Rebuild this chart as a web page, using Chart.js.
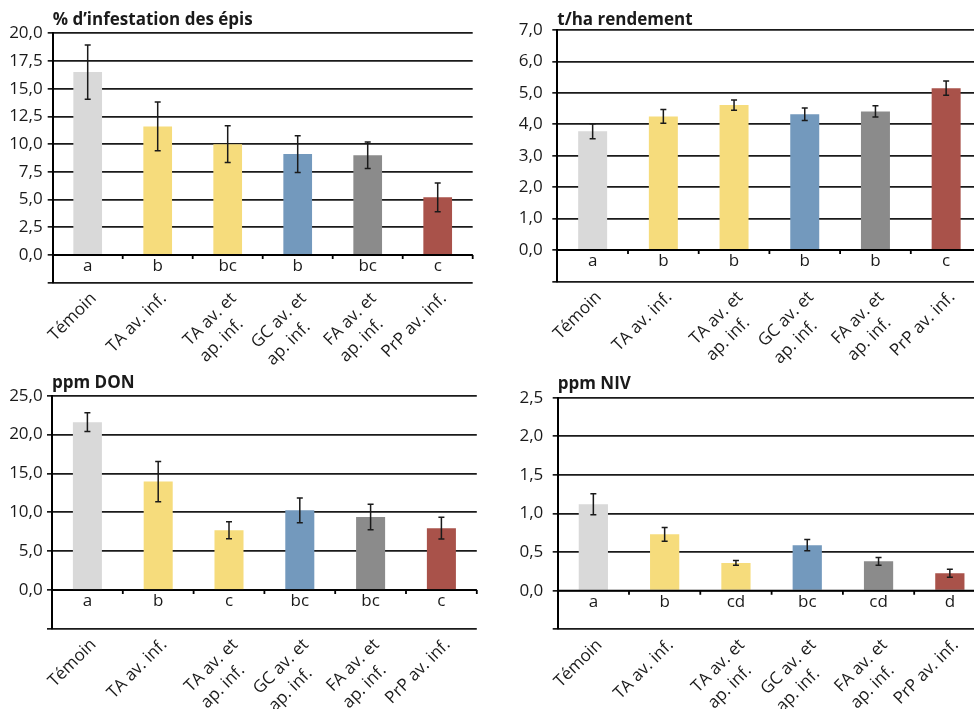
<!DOCTYPE html>
<html>
<head>
<meta charset="utf-8">
<script src="https://cdn.jsdelivr.net/npm/chart.js@4/dist/chart.umd.min.js"></script>
<style>
  html, body { margin: 0; padding: 0; background: #fff; }
  body { width: 974px; height: 709px; overflow: hidden; position: relative; }
  canvas { position: absolute; }
</style>
</head>
<body>
<canvas id="c1" width="490" height="372" style="left:0;top:0"></canvas>
<canvas id="c2" width="500" height="372" style="left:490px;top:0"></canvas>
<canvas id="c3" width="490" height="337" style="left:0;top:372px"></canvas>
<canvas id="c4" width="500" height="337" style="left:490px;top:372px"></canvas>
<script>
// Treatments (x categories)
const categories = [
  'Témoin',
  'TA av. inf.',
  ['TA av. et', 'ap. inf.'],
  ['GC av. et', 'ap. inf.'],
  ['FA av. et', 'ap. inf.'],
  'PrP av. inf.'
];
const barColors = ['#d9d9d9', '#f6dc7c', '#f6dc7c', '#7399bd', '#8b8b8b', '#a9524a'];

// % d'infestation des épis
const infestation = [16.5, 11.6, 10.0, 9.1, 9.0, 5.2];
const infestationErr = [2.45, 2.2, 1.65, 1.65, 1.2, 1.3];
const infestationLetters = ['a', 'b', 'bc', 'b', 'bc', 'c'];

// t/ha rendement
const rendement = [3.78, 4.25, 4.61, 4.32, 4.41, 5.15];
const rendementErr = [0.24, 0.22, 0.16, 0.2, 0.18, 0.23];
const rendementLetters = ['a', 'b', 'b', 'b', 'b', 'c'];

// ppm DON
const don = [21.6, 13.95, 7.7, 10.25, 9.4, 7.95];
const donErr = [1.2, 2.6, 1.1, 1.6, 1.65, 1.4];
const donLetters = ['a', 'b', 'c', 'bc', 'bc', 'c'];

// ppm NIV
const niv = [1.12, 0.73, 0.36, 0.59, 0.38, 0.225];
const nivErr = [0.135, 0.09, 0.03, 0.073, 0.05, 0.052];
const nivLetters = ['a', 'b', 'cd', 'bc', 'cd', 'd'];

const INK = '#1a1a1a';
const LABEL_FONT = "17px 'Open Sans', sans-serif";
Chart.defaults.font.family = "'Open Sans', sans-serif";
Chart.defaults.color = INK;

// Rotated tick labels are right-aligned by Chart.js; pad the shorter lines
// of a multi-line label so that all its lines start at the same point.
const measureCtx = document.createElement('canvas').getContext('2d');
function startAligned(lines) {
  measureCtx.font = LABEL_FONT;
  const widths = lines.map(l => measureCtx.measureText(l).width);
  const maxW = Math.max(...widths);
  const space = measureCtx.measureText(' ').width;
  return lines.map((l, i) => l + ' '.repeat(Math.round((maxW - widths[i]) / space)));
}

// Vertical error bars from each bar's value +/- its error
const errorBars = {
  id: 'errorBars',
  afterDatasetsDraw(chart, args, opts) {
    const { ctx, scales: { x, y } } = chart;
    const data = chart.data.datasets[0].data;
    ctx.save();
    ctx.strokeStyle = INK;
    ctx.lineWidth = 1.5;
    data.forEach((v, i) => {
      const px = x.getPixelForValue(i);
      const top = y.getPixelForValue(v + opts.values[i]);
      const bot = y.getPixelForValue(v - opts.values[i]);
      ctx.beginPath();
      ctx.moveTo(px, top); ctx.lineTo(px, bot);
      ctx.moveTo(px - 3, top); ctx.lineTo(px + 3, top);
      ctx.moveTo(px - 3, bot); ctx.lineTo(px + 3, bot);
      ctx.stroke();
    });
    ctx.restore();
  }
};

// Horizontal axis at zero with its category tick marks, plus the group letters below it
const zeroAxis = {
  id: 'zeroAxis',
  afterDatasetsDraw(chart, args, opts) {
    const { ctx, chartArea, scales: { x, y } } = chart;
    const y0 = y.getPixelForValue(0);
    const n = chart.data.labels.length;
    const half = (x.getPixelForValue(1) - x.getPixelForValue(0)) / 2;
    ctx.save();
    ctx.strokeStyle = '#000';
    ctx.lineWidth = 1.8;
    ctx.beginPath();
    ctx.moveTo(chartArea.left, y0); ctx.lineTo(chartArea.right, y0);
    for (let i = 0; i < n; i++) {
      const bx = x.getPixelForValue(i) + half;
      ctx.moveTo(bx, y0); ctx.lineTo(bx, y0 + 4);
    }
    ctx.stroke();
    ctx.fillStyle = INK;
    ctx.font = LABEL_FONT;
    ctx.textAlign = 'center';
    ctx.textBaseline = 'middle';
    opts.letters.forEach((t, i) => {
      ctx.fillText(t, x.getPixelForValue(i), y0 + opts.letterGap);
    });
    ctx.restore();
  }
};

// Panel title aligned on the plot's left edge
const panelTitle = {
  id: 'panelTitle',
  afterDraw(chart, args, opts) {
    const { ctx, chartArea } = chart;
    ctx.save();
    ctx.fillStyle = INK;
    ctx.font = "bold 17px 'Open Sans', sans-serif";
    ctx.textAlign = 'left';
    ctx.textBaseline = 'alphabetic';
    ctx.fillText(opts.text, chartArea.left, chartArea.top - opts.gap);
    ctx.restore();
  }
};

function panel(id, cfg) {
  const canvas = document.getElementById(id);
  const W = canvas.width, H = canvas.height;
  return new Chart(canvas, {
    type: 'bar',
    data: {
      labels: categories,
      datasets: [{
        data: cfg.values,
        backgroundColor: barColors,
        borderWidth: 0,
        barPercentage: 0.41,
        categoryPercentage: 1.0
      }]
    },
    options: {
      responsive: false,
      animation: false,
      devicePixelRatio: 1,
      layout: { padding: { top: cfg.top, right: W - cfg.right, left: 0, bottom: 0 } },
      plugins: {
        legend: { display: false },
        tooltip: { enabled: false },
        errorBars: { values: cfg.errors },
        zeroAxis: { letters: cfg.letters, letterGap: 11 },
        panelTitle: { text: cfg.title, gap: cfg.titleGap }
      },
      scales: {
        x: {
          grid: { display: false, drawTicks: false },
          border: { display: false },
          ticks: {
            autoSkip: false,
            minRotation: 45,
            maxRotation: 45,
            padding: 5,
            labelOffset: 6,
            font: { size: 17, lineHeight: 1.35 },
            color: INK,
            callback(value) {
              const l = this.getLabelForValue(value);
              return Array.isArray(l) ? startAligned(l) : l;
            }
          },
          afterFit: s => { s.height = H - cfg.bottom; }
        },
        y: {
          min: -cfg.step,
          max: cfg.max,
          ticks: {
            stepSize: cfg.step,
            padding: cfg.labelPad,
            font: { size: 17 },
            color: INK,
            callback: v => (v < 0 ? '' : v.toFixed(1).replace('.', ','))
          },
          grid: { color: INK, lineWidth: 1.7, tickLength: 5, drawTicks: true },
          border: { color: '#000', width: 2 },
          afterFit: s => { s.width = cfg.left; }
        }
      }
    },
    plugins: [errorBars, zeroAxis, panelTitle]
  });
}

panel('c1', {
  title: '% d’infestation des épis', values: infestation, errors: infestationErr, letters: infestationLetters,
  max: 20, step: 2.5, left: 52.7, right: 472.7, top: 33.3, bottom: 282.7, labelPad: 5, titleGap: 8
});
panel('c2', {
  title: 't/ha rendement', values: rendement, errors: rendementErr, letters: rendementLetters,
  max: 7, step: 1, left: 67.3, right: 491.5, top: 30, bottom: 281.4, labelPad: 9.6, titleGap: 5
});
panel('c3', {
  title: 'ppm DON', values: don, errors: donErr, letters: donLetters,
  max: 25, step: 5, left: 52, right: 476.8, top: 23.7, bottom: 256.9, labelPad: 4.3, titleGap: 7.5
});
panel('c4', {
  title: 'ppm NIV', values: niv, errors: nivErr, letters: nivLetters,
  max: 2.5, step: 0.5, left: 67.7, right: 495.5, top: 25.7, bottom: 257.3, labelPad: 9.4, titleGap: 8.5
});
</script>
</body>
</html>
